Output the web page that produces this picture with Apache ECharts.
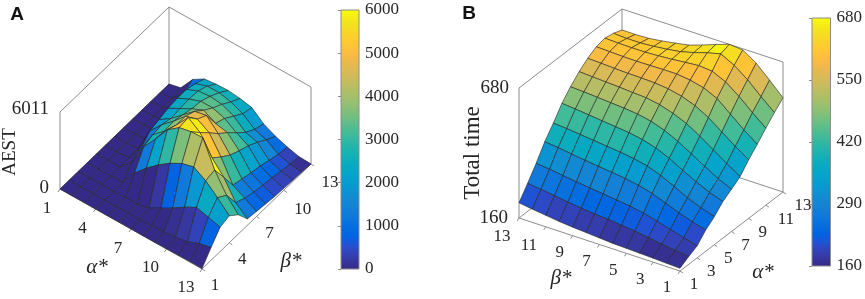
<!DOCTYPE html>
<html><head><meta charset="utf-8"><style>html,body{margin:0;padding:0;background:#fff}#c{width:865px;height:299px}</style>
<script src="https://cdn.jsdelivr.net/npm/echarts@6/dist/echarts.min.js"></script></head>
<body><div id="c"></div><script>
// Panel A: AEST, rows beta = 1..13, columns alpha = 1..13
const aestByBeta = [
 [0,0,0,0,0,0,0,0,0,10,30,50,30],
 [0,0,0,0,0,30,50,80,120,250,400,780,1000],
 [0,0,0,0,20,50,270,780,1300,1900,2400,2150,1900],
 [0,0,0,30,1280,2180,2950,3600,4100,4350,3800,3000,2100],
 [0,0,30,900,2630,3780,5000,5700,5900,5950,3950,2500,1500],
 [0,0,60,1300,2900,3700,4700,5800,5150,3700,2700,1250,500],
 [0,0,80,2000,3000,3800,4700,5000,4450,3080,1400,900,400],
 [0,0,100,2200,2800,3600,4400,4600,3700,2550,1200,700,300],
 [0,30,150,2400,2900,3400,3800,3300,3100,2200,1000,550,200],
 [0,40,250,2500,2950,3300,3300,3000,2400,1900,850,450,150],
 [0,50,500,2500,2900,3000,2900,2500,1750,1500,600,300,100],
 [0,80,1000,2260,2600,2600,2400,2000,1300,1000,400,150,50],
 [0,230,1400,1950,2060,2100,2000,1800,1050,600,280,50,0]
];
// Panel B: Total time, rows alpha = 1..13, columns beta = 13..1
const timeByAlpha = [
 [221,213,206,199,194,190,186,182,180,178,176,173,171],
 [272,266,258,250,244,238,234,228,222,214,206,198,191],
 [326,320,312,305,298,292,285,278,268,254,238,222,208],
 [386,380,372,365,358,352,345,335,320,300,278,260,245],
 [434,430,424,418,412,406,398,386,366,340,312,290,272],
 [487,482,476,470,464,458,448,432,408,378,350,325,306],
 [527,524,520,516,512,506,495,476,450,418,385,354,329],
 [561,558,555,552,548,545,535,518,495,462,425,388,353],
 [588,586,583,581,580,578,572,560,540,510,470,430,394],
 [608,606,604,603,604,605,605,598,585,560,515,470,430],
 [616,614,613,613,616,620,625,630,625,600,560,512,468],
 [609,606,606,610,616,624,638,655,668,640,600,550,504],
 [596,596,598,605,614,624,642,662,680,675,640,590,537]
];
const gridIndex = [1,2,3,4,5,6,7,8,9,10,11,12,13];
const alphaTicksA = [1,4,7,10,13], betaTicksA = [1,4,7,10,13];
const alphaTicksB = [1,3,5,7,9,11,13], betaTicksB = [1,3,5,7,9,11,13];
const colorbarTicksA = [0,1000,2000,3000,4000,5000,6000];
const colorbarTicksB = [160,290,420,550,680];
const zRangeA = [0,6011], zRangeB = [160,680];
const colorRangeA = [0,6000], colorRangeB = [160,680];

const parula=[[.2081,.1663,.5292],[.2116,.1898,.5777],[.2123,.2138,.627],[.2081,.2386,.6771],[.1959,.2645,.7279],[.1707,.2919,.7792],[.1253,.3242,.8303],[.0591,.3598,.8683],[.0117,.3875,.882],[.006,.4086,.8828],[.0165,.4266,.8786],[.0329,.443,.872],[.0498,.4586,.8641],[.0629,.4737,.8554],[.0723,.4887,.8467],[.0779,.504,.8384],[.0793,.52,.8312],[.0749,.5375,.8263],[.0641,.557,.824],[.0488,.5772,.8228],[.0343,.5966,.8199],[.0265,.6137,.8135],[.0239,.6287,.8038],[.0231,.6418,.7913],[.0228,.6535,.7768],[.0267,.6642,.7607],[.0384,.6743,.7436],[.059,.6838,.7254],[.0843,.6928,.7062],[.1133,.7015,.6859],[.1453,.7098,.6646],[.1801,.7177,.6424],[.2178,.725,.6193],[.2586,.7317,.5954],[.3022,.7376,.5712],[.3482,.7424,.5473],[.3953,.7459,.5244],[.442,.7481,.5033],[.4871,.7491,.484],[.53,.7491,.4661],[.5709,.7485,.4494],[.6099,.7473,.4337],[.6473,.7456,.4188],[.6834,.7435,.4044],[.7184,.7411,.3905],[.7525,.7384,.3768],[.7858,.7356,.3633],[.8185,.7327,.3498],[.8507,.7299,.336],[.8824,.7274,.3217],[.9139,.7258,.3063],[.945,.7261,.2886],[.9739,.7314,.2666],[.9938,.7455,.2403],[.999,.7653,.2164],[.9955,.7861,.1967],[.988,.8066,.1794],[.9789,.8271,.1633],[.9697,.8481,.1475],[.9626,.8705,.1309],[.9589,.8949,.1132],[.9598,.9218,.0948],[.9661,.9514,.0755],[.9763,.9831,.0538]];
const rgb=c=>`rgb(${Math.round(c[0]*255)},${Math.round(c[1]*255)},${Math.round(c[2]*255)})`;
const colorOf=(v,r)=>{const t=Math.max(0,Math.min(.9999,(v-r[0])/(r[1]-r[0])));return rgb(parula[Math.floor(t*64)]);};
const gradientStops=parula.map((c,i)=>({offset:1-i/63,color:rgb(c)}));

const TEXT='#262626', BOX='#8c8c8c', SERIF='"Liberation Serif","Times New Roman",serif';
// Panel placement: screen position of (alpha=1,beta=1,zmin) and per-step vectors.
const viewA={o:[60,189],a:[142/12,80/12],b:[109/12,-105/12],zPx:77,z:zRangeA,
  value:(i,j)=>aestByBeta[j][i],range:colorRangeA};
const viewB={o:[680,271],a:[103/12,-79/12],b:[-161/12,-53/12],zPx:130,z:zRangeB,
  value:(i,j)=>timeByAlpha[i][12-j],range:colorRangeB};
const project=(v,al,be,zv)=>[v.o[0]+v.a[0]*(al-1)+v.b[0]*(be-1),
  v.o[1]+v.a[1]*(al-1)+v.b[1]*(be-1)-(zv-v.z[0])/(v.z[1]-v.z[0])*v.zPx];

function surfaceSeries(v,backToFront){
  const faces=[];
  for(let j=0;j<12;j++)for(let i=0;i<12;i++)faces.push([i,j]);
  faces.sort(backToFront);
  return {type:'custom',xAxisIndex:0,yAxisIndex:0,silent:true,clip:false,z:3,animation:false,data:faces,
    renderItem:(p,api)=>{
      const i=api.value(0),j=api.value(1);
      const pts=[[i,j],[i+1,j],[i+1,j+1],[i,j+1]].map(q=>api.coord(project(v,gridIndex[q[0]],gridIndex[q[1]],v.value(q[0],q[1]))));
      return {type:'polygon',shape:{points:pts},style:{fill:colorOf(v.value(i,j),v.range),stroke:'rgba(35,35,35,.75)',lineWidth:.8,lineJoin:'round'}};
    }};
}
function lineSeries(v,edges,z){
  return {type:'custom',xAxisIndex:0,yAxisIndex:0,silent:true,clip:false,z:z,animation:false,data:edges.map((e,k)=>[k]),
    renderItem:(p,api)=>{
      const e=edges[api.value(0)];
      const A=api.coord(project(v,e[0],e[1],e[2])),B=api.coord(e[6]?[project(v,e[3],e[4],e[5])[0]+e[6],project(v,e[3],e[4],e[5])[1]+e[7]]:project(v,e[3],e[4],e[5]));
      return {type:'line',shape:{x1:A[0],y1:A[1],x2:B[0],y2:B[1]},style:{stroke:BOX,lineWidth:1}};
    }};
}
function textSeries(items){
  return {type:'custom',xAxisIndex:0,yAxisIndex:0,silent:true,clip:false,z:6,animation:false,data:items.map((t,k)=>[k]),
    renderItem:(p,api)=>{
      const t=items[api.value(0)],c=api.coord(t.at);
      return {type:'text',x:c[0],y:c[1],rotation:t.rot||0,style:{text:t.text,x:0,y:0,fill:t.fill||TEXT,font:t.font||`17px ${SERIF}`,textAlign:t.align||'center',textVerticalAlign:'middle'}};
    }};
}
const add=(p,d)=>[p[0]+d[0],p[1]+d[1]];
function colorbar(idx,range){
  return {type:'custom',xAxisIndex:idx,yAxisIndex:idx,silent:true,animation:false,z:2,data:[[0]],
    renderItem:(p,api)=>{
      const a=api.coord([0,range[1]]),b=api.coord([1,range[0]]);
      return {type:'rect',shape:{x:a[0],y:a[1],width:b[0]-a[0],height:b[1]-a[1]},
        style:{fill:new echarts.graphic.LinearGradient(0,0,0,1,gradientStops)}};
    }};
}
const zA=zRangeA,zB=zRangeB;
const boxBackA=[[1,1,zA[0],1,1,zA[1]],[1,1,zA[1],1,13,zA[1]],[1,13,zA[1],13,13,zA[1]],[13,13,zA[1],13,13,zA[0]],[1,13,zA[1],1,13,zA[0]],[1,1,zA[0],1,13,zA[0]],[1,13,zA[0],13,13,zA[0]]];
const boxFrontA=[[1,1,zA[0],13,1,zA[0]],[13,1,zA[0],13,13,zA[0]]]
  .concat(alphaTicksA.map(t=>[t,1,zA[0],t,1,zA[0],-2,3])).concat(betaTicksA.map(t=>[13,t,zA[0],13,t,zA[0],3,2]));
const boxBackB=[[1,13,zB[0],1,13,zB[1]],[1,13,zB[1],13,13,zB[1]],[13,13,zB[1],13,1,zB[1]],[13,1,zB[1],13,1,zB[0]],[13,13,zB[1],13,13,zB[0]],[1,13,zB[0],13,13,zB[0]],[13,13,zB[0],13,1,zB[0]]];
const boxFrontB=[[1,13,zB[0],1,1,zB[0]],[1,1,zB[0],13,1,zB[0]]]
  .concat(betaTicksB.map(t=>[1,t,zB[0],1,t,zB[0],-2,3])).concat(alphaTicksB.map(t=>[t,1,zB[0],t,1,zB[0],3,2]));
const labels=[
 {text:'A',at:[17,15],font:'bold 19px "Liberation Sans",Arial,sans-serif',fill:'#111'},
 {text:'B',at:[469,14],font:'bold 19px "Liberation Sans",Arial,sans-serif',fill:'#111'},
 {text:'AEST',at:[10,152],rot:Math.PI/2,font:`19px ${SERIF}`},
 {text:'Total time',at:[473,153],rot:Math.PI/2,font:`23px ${SERIF}`},
 {text:'6011',at:[49,109],align:'right',font:`19px ${SERIF}`},{text:'0',at:[49,188],align:'right',font:`19px ${SERIF}`},
 {text:'680',at:[509,88],align:'right',font:`19px ${SERIF}`},{text:'160',at:[508,218],align:'right',font:`19px ${SERIF}`},
 {text:'α*',at:[97,267],font:`italic 21px ${SERIF}`},{text:'β*',at:[291,261],font:`italic 21px ${SERIF}`},
 {text:'β*',at:[561,278],font:`italic 21px ${SERIF}`},{text:'α*',at:[763,272],font:`italic 21px ${SERIF}`}
].concat(
 alphaTicksA.map(t=>({text:String(t),at:add(project(viewA,t,1,zA[0]),t>9?[-16,19]:[-13,20])})),
 betaTicksA.map(t=>({text:String(t),at:add(project(viewA,13,t,zA[0]),t>9?[19,19]:[13,17])})),
 betaTicksB.map(t=>({text:String(t),at:add(project(viewB,1,t,zB[0]),t>9?[-17,19]:[-13,17])})),
 alphaTicksB.map(t=>({text:String(t),at:add(project(viewB,t,1,zB[0]),t>9?[20,14]:[14,14])}))
);
const barAxis=(range,ticks)=>({type:'value',position:'right',min:range[0],max:range[1],
  axisLine:{show:false},splitLine:{show:false},
  axisTick:{show:true,inside:true,length:3,lineStyle:{color:BOX},customValues:ticks},
  axisLabel:{color:TEXT,fontFamily:'Liberation Serif',fontSize:17,margin:6,customValues:ticks,formatter:v=>String(v)}});
const hidden={type:'value',min:0,max:1,show:false};
const option={
 animation:false,backgroundColor:'#fff',
 grid:[{left:0,top:0,width:865,height:299},
  {left:341,top:10,width:18,height:259,show:true,borderColor:BOX,borderWidth:1,backgroundColor:'transparent',z:4},
  {left:812,top:18,width:19,height:248,show:true,borderColor:BOX,borderWidth:1,backgroundColor:'transparent',z:4}],
 xAxis:[{type:'value',gridIndex:0,min:0,max:865,show:false},{...hidden,gridIndex:1},{...hidden,gridIndex:2}],
 yAxis:[{type:'value',gridIndex:0,min:0,max:299,inverse:true,show:false},
  {...barAxis(colorRangeA,colorbarTicksA),gridIndex:1},{...barAxis(colorRangeB,colorbarTicksB),gridIndex:2}],
 series:[
  lineSeries(viewA,boxBackA,1),lineSeries(viewB,boxBackB,1),
  lineSeries(viewA,boxFrontA,2),lineSeries(viewB,boxFrontB,2),
  surfaceSeries(viewA,(p,q)=>(p[0]-p[1])-(q[0]-q[1])),
  surfaceSeries(viewB,(p,q)=>(q[0]+q[1])-(p[0]+p[1])),
  colorbar(1,colorRangeA),colorbar(2,colorRangeB),
  textSeries(labels)
 ]
};
echarts.init(document.getElementById('c')).setOption(option);
</script></body></html>
